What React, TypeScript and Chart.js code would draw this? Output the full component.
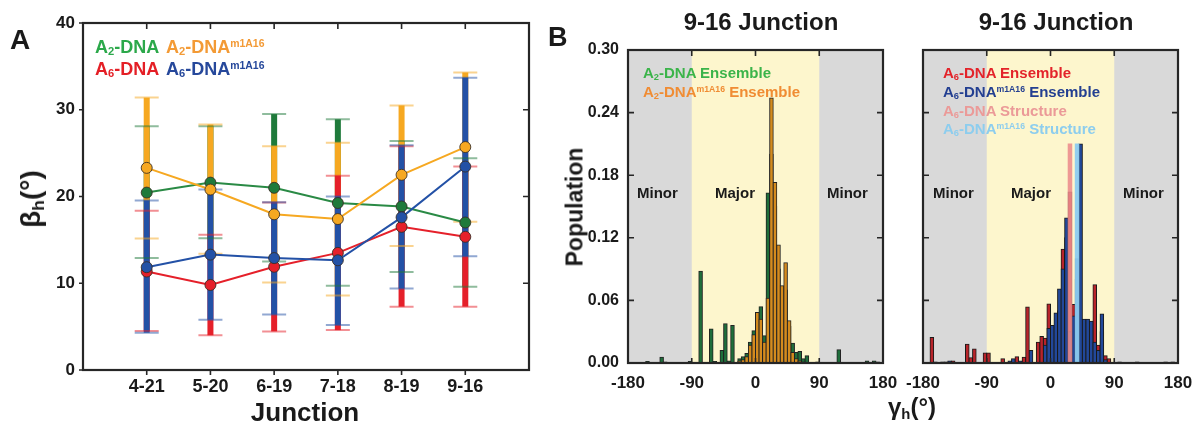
import React, { useEffect, useRef } from 'react';
import { Chart, registerables } from 'chart.js';

Chart.register(...registerables);

const FONT = "'Liberation Sans', Arial, Helvetica, sans-serif";

// ---------- Panel A data ----------
const junctions = ['4-21', '5-20', '6-19', '7-18', '8-19', '9-16'];
const betaTicks = [0, 10, 20, 30, 40];
const a2Mean = [20.45, 21.6, 21.0, 19.25, 18.85, 17.0];
const a2Low = [12.9, 15.2, 12.5, 9.7, 11.3, 9.6];
const a2High = [28.1, 28.1, 29.5, 28.9, 26.4, 24.4];
const a2mMean = [23.3, 20.8, 17.95, 17.4, 22.5, 25.7];
const a2mLow = [15.15, 13.4, 10.1, 8.6, 14.3, 17.1];
const a2mHigh = [31.4, 28.3, 25.8, 26.2, 30.5, 34.3];
const a6Mean = [11.35, 9.8, 11.9, 13.5, 16.5, 15.35];
const a6Low = [4.5, 4.0, 4.45, 4.6, 7.3, 7.3];
const a6High = [18.35, 15.6, 19.3, 22.4, 25.8, 23.45];
const a6mMean = [11.85, 13.3, 12.9, 12.65, 17.6, 23.45];
const a6mLow = [4.3, 5.8, 6.4, 5.2, 9.4, 13.1];
const a6mHigh = [19.55, 20.8, 19.35, 20.0, 25.9, 33.7];

// ---------- Panel B data (bin centres in degrees, population) ----------
const angleTicks = [-180, -90, 0, 90, 180];
const popTicks = [0, 0.06, 0.12, 0.18, 0.24, 0.3];
const majorBand = [-90, 90];

const a2Angles = [-152.5, -132.5, -127.5, -92.5, -77.5, -62.5, -57.5, -47.5, -42.5, -37.5, -32.5, -22.5, -17.5, -12.5, -7.5, -2.5, 2.5, 7.5, 12.5, 17.5, 22.5, 27.5, 32.5, 37.5, 42.5, 47.5, 52.5, 57.5, 62.5, 67.5, 72.5, 87.5, 117.5, 157.5, 167.5, 172.5];
const a2Pop = [0.0015, 0.0055, 0.001, 0.0015, 0.088, 0.0325, 0.0015, 0.012, 0.0376, 0.002, 0.036, 0.004, 0.006, 0.009, 0.02, 0.031, 0.045, 0.054, 0.026, 0.163, 0.2, 0.15, 0.09, 0.06, 0.07, 0.035, 0.019, 0.01, 0.011, 0.004, 0.007, 0.001, 0.0128, 0.002, 0.002, 0.001];

const a2mAngles = [-22.5, -17.5, -12.5, -7.5, -2.5, 2.5, 7.5, 12.5, 17.5, 22.5, 27.5, 32.5, 37.5, 42.5, 47.5, 52.5, 57.5, 62.5, 67.5];
const a2mPop = [0.002, 0.003, 0.006, 0.017, 0.027, 0.0485, 0.042, 0.02, 0.062, 0.254, 0.173, 0.113, 0.074, 0.096, 0.0405, 0.01, 0.004, 0.002, 0.001];

const a6Angles = [-167.5, -152.5, -137.5, -117.5, -112.5, -107.5, -92.5, -87.5, -67.5, -47.5, -37.5, -32.5, -17.5, -12.5, -7.5, -2.5, 2.5, 7.5, 12.5, 17.5, 22.5, 27.5, 32.5, 37.5, 47.5, 52.5, 57.5, 62.5, 67.5, 72.5, 77.5, 82.5];
const a6Pop = [0.0245, 0.001, 0.002, 0.018, 0.005, 0.0135, 0.0095, 0.0095, 0.004, 0.006, 0.0055, 0.0536, 0.02, 0.0255, 0.0237, 0.0565, 0.025, 0.035, 0.05, 0.109, 0.12, 0.164, 0.056, 0.08, 0.03, 0.033, 0.035, 0.075, 0.017, 0.03, 0.007, 0.004];

const a6mAngles = [-162.5, -147.5, -142.5, -57.5, -52.5, -42.5, -27.5, -7.5, -2.5, 2.5, 7.5, 12.5, 17.5, 22.5, 27.5, 32.5, 37.5, 42.5, 47.5, 52.5, 57.5, 62.5, 67.5, 72.5, 77.5, 97.5, 122.5, 162.5, 172.5];
const a6mPop = [0.001, 0.001, 0.002, 0.002, 0.004, 0.002, 0.012, 0.017, 0.033, 0.036, 0.048, 0.071, 0.09, 0.139, 0.03, 0.045, 0.1, 0.21, 0.042, 0.042, 0.04, 0.02, 0.012, 0.047, 0.003, 0.001, 0.001, 0.001, 0.001];

const a6StructAngles = [27.5];
const a6StructPop = [0.21];
const a6mStructAngles = [37.5];
const a6mStructPop = [0.21];

// ---------- colours ----------
const GREEN = '#2a8a45';
const GREEN_PT = '#1f7a3b';
const ORANGE = '#f6a821';
const RED = '#e5202a';
const BLUE = '#2351a6';
const FRAME = '#262626';
const TXT = '#1a1a1a';
const GREY = '#d9d9d9';
const YELLOW = '#fdf6cd';

const tickFont = (size: number) => ({ family: FONT, size, weight: 'bold' as const });

type TickSpec = { values: number[]; len: number };

function framePlugin(cfg: { left?: TickSpec; right?: TickSpec; top?: TickSpec; bottom?: TickSpec; bands?: boolean }) {
  return {
    id: 'frameTicks',
    beforeDatasetsDraw(chart: any) {
      if (!cfg.bands) return;
      const { ctx, chartArea: a, scales } = chart;
      ctx.save();
      ctx.fillStyle = GREY;
      ctx.fillRect(a.left, a.top, a.right - a.left, a.bottom - a.top);
      const x0 = scales.x.getPixelForValue(majorBand[0]);
      const x1 = scales.x.getPixelForValue(majorBand[1]);
      ctx.fillStyle = YELLOW;
      ctx.fillRect(x0, a.top, x1 - x0, a.bottom - a.top);
      ctx.restore();
    },
    afterDatasetsDraw(chart: any) {
      const { ctx, chartArea: a, scales } = chart;
      ctx.save();
      ctx.strokeStyle = FRAME;
      ctx.lineWidth = 1.6;
      ctx.beginPath();
      if (cfg.left) for (const v of cfg.left.values) { const y = scales.y.getPixelForValue(v); ctx.moveTo(a.left, y); ctx.lineTo(a.left + cfg.left.len, y); }
      if (cfg.right) for (const v of cfg.right.values) { const y = scales.y.getPixelForValue(v); ctx.moveTo(a.right, y); ctx.lineTo(a.right - cfg.right.len, y); }
      if (cfg.top) for (const v of cfg.top.values) { const x = scales.x.getPixelForValue(v); ctx.moveTo(x, a.top); ctx.lineTo(x, a.top + cfg.top.len); }
      if (cfg.bottom) for (const v of cfg.bottom.values) { const x = scales.x.getPixelForValue(v); ctx.moveTo(x, a.bottom); ctx.lineTo(x, a.bottom - cfg.bottom.len); }
      ctx.stroke();
      ctx.lineWidth = 2.2;
      ctx.strokeRect(a.left, a.top, a.right - a.left, a.bottom - a.top);
      ctx.restore();
    },
  };
}

const errorSeries = [
  { low: a2Low, high: a2High, color: GREEN_PT },
  { low: a2mLow, high: a2mHigh, color: ORANGE },
  { low: a6Low, high: a6High, color: RED },
  { low: a6mLow, high: a6mHigh, color: BLUE },
];

const errorBarPlugin = {
  id: 'errorBars',
  beforeDatasetsDraw(chart: any) {
    const { ctx, scales } = chart;
    const xs = scales.x;
    const ys = scales.y;
    ctx.save();
    for (const s of errorSeries) {
      ctx.fillStyle = s.color;
      s.low.forEach((lo, i) => {
        const x = xs.getPixelForValue(i + 1);
        const yHi = ys.getPixelForValue(s.high[i]);
        const yLo = ys.getPixelForValue(lo);
        ctx.fillRect(x - 3, yHi, 6, yLo - yHi);
      });
    }
    ctx.globalAlpha = 0.5;
    ctx.lineWidth = 2;
    for (const s of errorSeries) {
      ctx.strokeStyle = s.color;
      ctx.beginPath();
      s.low.forEach((lo, i) => {
        const x = xs.getPixelForValue(i + 1);
        for (const v of [lo, s.high[i]]) {
          const y = ys.getPixelForValue(v);
          ctx.moveTo(x - 12, y);
          ctx.lineTo(x + 12, y);
        }
      });
      ctx.stroke();
    }
    ctx.restore();
  },
};

const pts = (vals: number[]) => vals.map((v, i) => ({ x: i + 1, y: v }));
const hpts = (xs: number[], ys: number[]) => xs.map((x, i) => ({ x, y: ys[i] }));

function lineDs(label: string, vals: number[], line: string, fill: string, order: number) {
  return {
    label,
    data: pts(vals),
    borderColor: line,
    backgroundColor: fill,
    pointBackgroundColor: fill,
    pointBorderColor: 'rgba(55,45,35,0.85)',
    pointBorderWidth: 1,
    pointRadius: 5.5,
    borderWidth: 2,
    tension: 0,
    order,
  };
}

function makePanelA(canvas: HTMLCanvasElement) {
  return new Chart(canvas, {
    type: 'line',
    data: {
      datasets: [
        lineDs('A6-DNA m1A16', a6mMean, BLUE, BLUE, 1),
        lineDs('A6-DNA', a6Mean, RED, RED, 2),
        lineDs('A2-DNA m1A16', a2mMean, ORANGE, ORANGE, 3),
        lineDs('A2-DNA', a2Mean, GREEN, GREEN_PT, 4),
      ] as any,
    },
    options: {
      responsive: false,
      animation: false,
      events: [],
      layout: { padding: { left: 0, top: 23, right: 16, bottom: 0 } },
      plugins: { legend: { display: false }, tooltip: { enabled: false } },
      scales: {
        x: {
          type: 'linear',
          min: 0,
          max: 7,
          offset: false,
          afterBuildTicks: (s: any) => { s.ticks = junctions.map((_, i) => ({ value: i + 1 })); },
          ticks: { callback: (v: any) => junctions[Math.round(v) - 1] ?? '', font: tickFont(18), color: TXT, padding: 6, autoSkip: false, maxRotation: 0 },
          grid: { display: false, drawTicks: false },
          border: { display: false },
          afterFit: (s: any) => { s.height = 68; s.paddingLeft = 0; s.paddingRight = 0; },
        },
        y: {
          min: 0,
          max: 40,
          afterBuildTicks: (s: any) => { s.ticks = betaTicks.map((v) => ({ value: v })); },
          ticks: { font: tickFont(17), color: TXT, padding: 8 },
          grid: { display: false, drawTicks: false },
          border: { display: false },
          afterFit: (s: any) => { s.width = 83; s.paddingTop = 0; s.paddingBottom = 0; },
        },
      },
    } as any,
    plugins: [
      errorBarPlugin,
      framePlugin({
        left: { values: betaTicks, len: -4 },
        bottom: { values: [1, 2, 3, 4, 5, 6], len: -5 },
        top: { values: [1, 2, 3, 4, 5, 6], len: 6 },
        right: { values: [10, 20, 30], len: 6 },
      }),
    ],
  });
}

function barDs(label: string, xs: number[], ys: number[], fill: string, border: string, bw: number, order: number) {
  return {
    label,
    data: hpts(xs, ys),
    backgroundColor: fill,
    borderColor: border,
    borderWidth: bw,
    grouped: false,
    barPercentage: 1,
    categoryPercentage: 1,
    inflateAmount: 0.5,
    order,
  };
}

function makeHist(canvas: HTMLCanvasElement, datasets: any[], yWidth: number, showY: boolean, rightPad: number) {
  return new Chart(canvas, {
    type: 'bar',
    data: { datasets },
    options: {
      responsive: false,
      animation: false,
      events: [],
      layout: { padding: { left: 0, top: 50, right: rightPad, bottom: 0 } },
      plugins: { legend: { display: false }, tooltip: { enabled: false } },
      scales: {
        x: {
          type: 'linear',
          min: -180,
          max: 180,
          offset: false,
          afterBuildTicks: (s: any) => { s.ticks = angleTicks.map((v) => ({ value: v })); },
          ticks: { font: tickFont(17), color: TXT, padding: 10, autoSkip: false, maxRotation: 0 },
          grid: { display: false, drawTicks: false, offset: false },
          border: { display: false },
          afterFit: (s: any) => { s.height = 75; s.paddingLeft = 0; s.paddingRight = 0; },
        },
        y: {
          min: 0,
          max: 0.3,
          afterBuildTicks: (s: any) => { s.ticks = popTicks.map((v) => ({ value: v })); },
          ticks: { display: showY, callback: (v: any) => Number(v).toFixed(2), font: tickFont(16), color: TXT, padding: 9 },
          grid: { display: false, drawTicks: false },
          border: { display: false },
          afterFit: (s: any) => { s.width = yWidth; s.paddingTop = 0; s.paddingBottom = 0; },
        },
      },
    } as any,
    plugins: [
      framePlugin({
        bands: true,
        left: { values: popTicks.slice(1, 5), len: 6 },
        right: { values: popTicks.slice(1, 5), len: 6 },
        top: { values: angleTicks.slice(1, 4), len: 6 },
        bottom: { values: angleTicks.slice(1, 4), len: 5 },
      }),
    ],
  });
}

const Sub = ({ children }: any) => (
  <span style={{ fontSize: '0.62em', position: 'relative', top: '0.25em' }}>{children}</span>
);
const Sup = ({ children }: any) => (
  <span style={{ fontSize: '0.58em', position: 'relative', top: '-0.52em' }}>{children}</span>
);

const Txt = ({ x, y, size, color = TXT, children, center = false, width = 300 }: any) => (
  <div
    style={{
      position: 'absolute',
      left: center ? x - width / 2 : x,
      top: y,
      width: center ? width : undefined,
      textAlign: center ? 'center' : 'left',
      fontSize: size,
      fontWeight: 'bold',
      color,
      lineHeight: 1,
      whiteSpace: 'nowrap',
      fontFamily: FONT,
    }}
  >
    {children}
  </div>
);

const VTxt = ({ cx, cy, size, children }: any) => (
  <div
    style={{
      position: 'absolute',
      left: cx,
      top: cy,
      transform: 'translate(-50%,-50%) rotate(-90deg)',
      fontSize: size,
      fontWeight: 'bold',
      color: TXT,
      lineHeight: 1,
      whiteSpace: 'nowrap',
      fontFamily: FONT,
    }}
  >
    {children}
  </div>
);

export default function App() {
  const aRef = useRef<HTMLCanvasElement>(null);
  const lRef = useRef<HTMLCanvasElement>(null);
  const rRef = useRef<HTMLCanvasElement>(null);

  useEffect(() => {
    const charts: Chart[] = [];
    if (aRef.current) charts.push(makePanelA(aRef.current));
    if (lRef.current)
      charts.push(
        makeHist(
          lRef.current,
          [
            barDs('A2-DNA m1A16 Ensemble', a2mAngles, a2mPop, '#d48b1e', '#222', 1, 0),
            barDs('A2-DNA Ensemble', a2Angles, a2Pop, '#1f6e3b', '#222', 1, 1),
          ],
          88,
          true,
          27
        )
      );
    if (rRef.current)
      charts.push(
        makeHist(
          rRef.current,
          [
            barDs('A6-DNA Structure', a6StructAngles, a6StructPop, 'rgba(236,140,140,0.88)', 'rgba(0,0,0,0)', 0, 0),
            barDs('A6-DNA m1A16 Structure', a6mStructAngles, a6mStructPop, 'rgba(140,203,240,0.95)', 'rgba(0,0,0,0)', 0, 1),
            barDs('A6-DNA m1A16 Ensemble', a6mAngles, a6mPop, '#22489a', '#1a1a1a', 1, 2),
            barDs('A6-DNA Ensemble', a6Angles, a6Pop, '#b8242a', '#1a1a1a', 1, 3),
          ],
          23,
          false,
          20
        )
      );
    return () => charts.forEach((c) => c.destroy());
  }, []);

  return (
    <div style={{ position: 'fixed', left: 0, top: 0, width: 1198, height: 438, background: '#fff', overflow: 'hidden', fontFamily: FONT }}>
      <canvas ref={aRef} width={545} height={438} style={{ position: 'absolute', left: 0, top: 0, width: 545, height: 438 }} />
      <canvas ref={lRef} width={370} height={438} style={{ position: 'absolute', left: 540, top: 0, width: 370, height: 438 }} />
      <canvas ref={rRef} width={298} height={438} style={{ position: 'absolute', left: 900, top: 0, width: 298, height: 438 }} />

      {/* Panel labels */}
      <Txt x={10} y={26} size={28}>A</Txt>
      <Txt x={548} y={24} size={27}>B</Txt>

      {/* Panel A legend */}
      <Txt x={95} y={37.5} size={18} color="#2ba84a">A<Sub>2</Sub>-DNA</Txt>
      <Txt x={166} y={37.5} size={18} color="#f39a35">A<Sub>2</Sub>-DNA<Sup>m1A16</Sup></Txt>
      <Txt x={95} y={59.5} size={18} color="#e41f26">A<Sub>6</Sub>-DNA</Txt>
      <Txt x={166} y={59.5} size={18} color="#26489b">A<Sub>6</Sub>-DNA<Sup>m1A16</Sup></Txt>

      {/* Panel A axis titles */}
      <VTxt cx={31} cy={199} size={28}>β<Sub>h</Sub>(°)</VTxt>
      <Txt x={305} y={399} size={26} center>Junction</Txt>

      {/* Panel B titles */}
      <Txt x={761} y={10} size={24} center>9-16 Junction</Txt>
      <Txt x={1056} y={10} size={24} center>9-16 Junction</Txt>

      {/* Panel B legends */}
      <Txt x={643} y={64.5} size={15} color="#3bb44a">A<Sub>2</Sub>-DNA Ensemble</Txt>
      <Txt x={643} y={83.5} size={15} color="#f08c33">A<Sub>2</Sub>-DNA<Sup>m1A16</Sup> Ensemble</Txt>
      <Txt x={943} y={64.5} size={15} color="#e3232a">A<Sub>6</Sub>-DNA Ensemble</Txt>
      <Txt x={943} y={83.5} size={15} color="#233f91">A<Sub>6</Sub>-DNA<Sup>m1A16</Sup> Ensemble</Txt>
      <Txt x={943} y={102.5} size={15} color="#eb9a98">A<Sub>6</Sub>-DNA Structure</Txt>
      <Txt x={943} y={121} size={15} color="#8dcdee">A<Sub>6</Sub>-DNA<Sup>m1A16</Sup> Structure</Txt>

      {/* Groove labels */}
      <Txt x={637} y={184.5} size={15}>Minor</Txt>
      <Txt x={715} y={184.5} size={15}>Major</Txt>
      <Txt x={827} y={184.5} size={15}>Minor</Txt>
      <Txt x={933} y={184.5} size={15}>Minor</Txt>
      <Txt x={1011} y={184.5} size={15}>Major</Txt>
      <Txt x={1123} y={184.5} size={15}>Minor</Txt>

      {/* Panel B axis titles */}
      <VTxt cx={575} cy={207} size={23}>Population</VTxt>
      <Txt x={912} y={395} size={24} center>γ<Sub>h</Sub>(°)</Txt>
    </div>
  );
}
